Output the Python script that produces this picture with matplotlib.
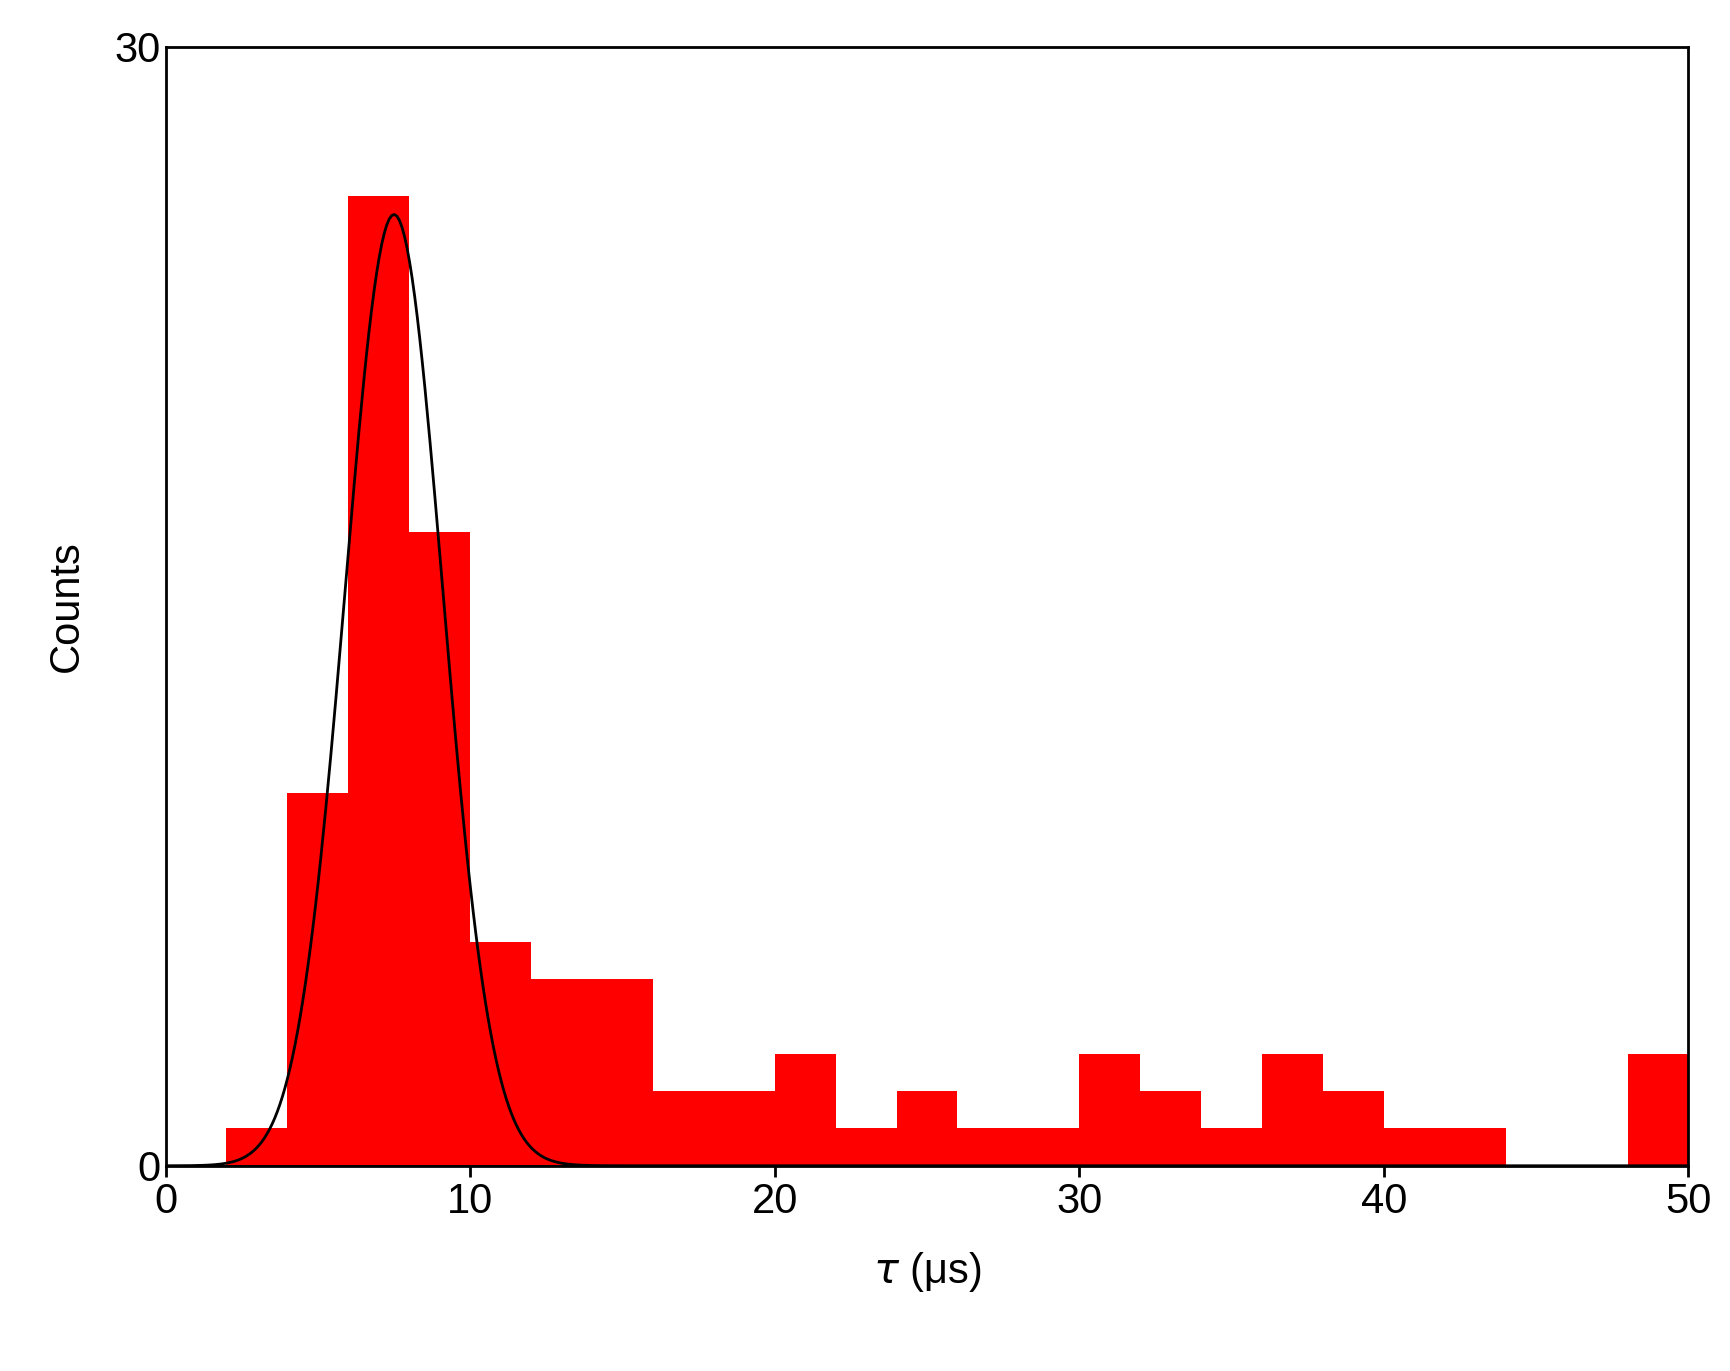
import matplotlib
matplotlib.use("Agg")
import matplotlib.pyplot as plt
import numpy as np

plt.rcParams["font.family"] = ["Liberation Sans", "DejaVu Sans"]

# histogram bins (2 us wide) and counts
bin_edges = list(range(2, 52, 2))
counts = [1, 10, 26, 17, 6, 5, 5, 2, 2, 3, 1, 2, 1, 1, 3, 2, 1, 3, 2, 1, 1, 0, 0, 3]

# gaussian fit parameters
fit_amp = 25.5
fit_mu = 7.5
fit_sigma = 1.6

fig = plt.figure(figsize=(17.3, 13.71), dpi=100)
ax = fig.add_axes([0.0957, 0.1497, 0.8803, 0.8163])

ax.bar(bin_edges[:-1], counts, width=2, align="edge", color="#ff0000", linewidth=0)
t = np.linspace(0, 50, 600)
ax.plot(t, fit_amp * np.exp(-(t - fit_mu) ** 2 / (2 * fit_sigma ** 2)), color="black", lw=2)
ax.axhline(0, color="black", lw=2)

ax.set_xlim(0, 50)
ax.set_ylim(0, 30)
ax.set_xticks([0, 10, 20, 30, 40, 50])
ax.set_yticks([0, 30])
ax.tick_params(axis="both", labelsize=30, width=2, length=8)
ax.tick_params(axis="y", length=0)
for s in ax.spines.values():
    s.set_linewidth(2)
ax.set_xlabel(r"$\tau$ (μs)", fontsize=30, labelpad=20)
ax.set_ylabel("Counts", fontsize=30, labelpad=20)

fig.savefig("out.png", dpi=100)
